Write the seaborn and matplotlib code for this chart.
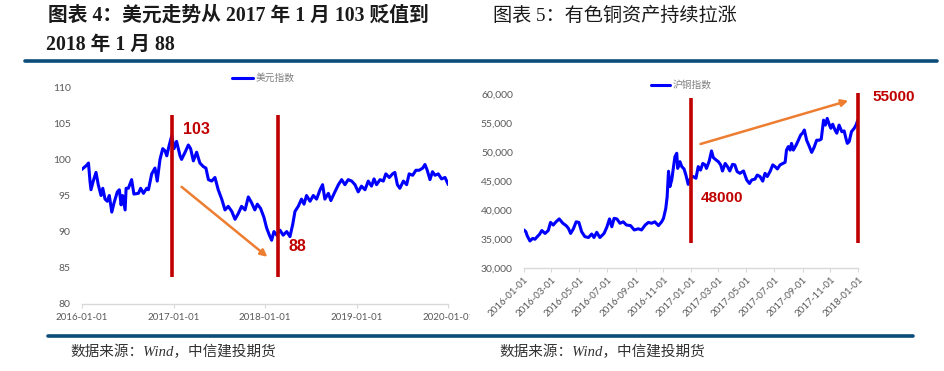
import numpy as np
import pandas as pd
import matplotlib
matplotlib.use("Agg")
import matplotlib.pyplot as plt
import matplotlib.dates as mdates
import matplotlib.ticker as mticker
from matplotlib.lines import Line2D
from matplotlib.transforms import Bbox, TransformedBbox
import seaborn as sns

# ---------------- data ----------------
usd_start = "2016-01-01"
usd_days = [0, 20, 27, 33, 37, 46, 57, 66, 77, 84, 93, 102, 110, 120, 129, 142, 150, 157, 163,
            173, 177, 186, 199, 208, 226, 235, 246, 259, 266, 279, 292, 301, 312, 323, 332, 339,
            349, 359, 368, 378, 392, 398, 412, 425, 434, 445, 458, 471, 485, 495, 505, 518, 531,
            544, 558, 571, 584, 598, 611, 624, 637, 651, 664, 677, 690, 700, 713, 726, 737, 748,
            757, 766, 777, 790, 803, 817, 830, 841, 850, 863, 876, 886, 896, 910, 923, 936, 950,
            960, 969, 983, 993, 1009, 1023, 1036, 1049, 1062, 1076, 1089, 1102, 1115, 1129, 1142,
            1155, 1165, 1175, 1189, 1202, 1212, 1226, 1239, 1248, 1258, 1268, 1282, 1295, 1305,
            1319, 1332, 1345, 1359, 1368, 1377, 1388, 1398, 1408, 1421, 1434, 1448, 1461]
usd_vals = [98.6, 99.2, 99.5, 97.0, 95.8, 97.0, 98.2, 96.5, 95.0, 96.0, 94.5, 94.2, 95.0, 92.7,
            94.0, 95.5, 95.8, 93.7, 95.0, 93.0, 96.0, 96.0, 97.2, 95.2, 95.3, 96.0, 95.3, 96.0,
            95.8, 98.0, 98.8, 97.0, 100.0, 101.5, 101.2, 100.5, 102.0, 103.3, 101.5, 102.5, 100.5,
            100.0, 101.0, 102.0, 101.5, 99.8, 101.0, 99.5, 99.0, 98.8, 97.2, 97.0, 97.5, 95.8,
            94.5, 93.0, 93.5, 92.8, 91.7, 92.5, 93.5, 93.0, 94.8, 94.0, 93.0, 93.8, 93.2, 92.0,
            90.5, 89.5, 88.8, 90.0, 89.5, 90.2, 89.5, 90.0, 89.3, 91.0, 92.8, 93.5, 94.5, 93.8,
            95.0, 94.2, 95.0, 94.5, 95.8, 96.5, 94.5, 95.3, 94.3, 95.5, 96.5, 97.2, 96.5, 97.2,
            97.0, 96.5, 95.5, 96.3, 95.8, 97.0, 96.3, 97.3, 96.5, 97.2, 97.0, 98.0, 97.5, 98.0,
            98.2, 96.5, 96.0, 97.0, 96.5, 98.0, 97.8, 98.5, 98.5, 98.8, 99.3, 98.5, 97.2, 98.3,
            97.8, 98.0, 97.3, 97.5, 96.5]
usd_ticks = ["2016-01-01", "2017-01-01", "2018-01-01", "2019-01-01", "2020-01-01"]
usd_marks = ["2016-12-27", "2018-02-20"]
usd_mark_span = [83.7, 106.2]
usd_notes = [("103", "2017-02-08", 104.1), ("88", "2018-04-06", 87.9)]
usd_arrow = [("2017-02-02", 96.2), ("2018-01-10", 86.5)]

cu_start = "2016-01-01"
cu_days = [0, 4, 7, 13, 19, 24, 29, 34, 39, 46, 53, 58, 64, 70, 77, 85, 92, 97, 102, 108, 114,
           120, 126, 133, 141, 148, 153, 159, 166, 175, 181, 187, 192, 197, 203, 210, 217, 224,
           233, 241, 250, 257, 265, 272, 279, 286, 294, 301, 305, 310, 313, 316, 319, 323, 327,
           330, 334, 336, 341, 345, 350, 354, 359, 364, 370, 376, 381, 386, 391, 396, 399, 405,
           410, 414, 420, 425, 430, 434, 440, 445, 450, 456, 461, 466, 472, 480, 487, 493, 498,
           505, 510, 516, 522, 527, 532, 538, 544, 549, 554, 560, 566, 571, 574, 578, 582, 585,
           589, 595, 600, 605, 609, 613, 618, 624, 629, 634, 640, 646, 650, 655, 659, 663, 668,
           671, 675, 680, 684, 689, 695, 700, 704, 707, 711, 716, 722, 726, 730]
cu_vals = [36600, 36300, 35600, 34700, 35150, 35000, 35450, 35850, 36500, 36000, 36500, 37900,
           37450, 38000, 38500, 37750, 37350, 36900, 36000, 36800, 38000, 37900, 36300, 35450,
           35300, 35900, 35300, 36200, 35300, 36000, 37050, 38500, 37150, 38600, 38500, 37750,
           38000, 37450, 37350, 36600, 36800, 36600, 37450, 37900, 37750, 38000, 37350, 38000,
           38600, 40300, 42300, 46700, 44050, 45200, 47500, 49200, 49800, 47200, 48350, 47500,
           47100, 46050, 44450, 45500, 45800, 45500, 47500, 46900, 48050, 47800, 47200, 48450,
           50200, 49050, 48650, 48350, 47800, 46750, 48050, 47500, 46750, 47900, 47800, 46650,
           46350, 46750, 45200, 44600, 45200, 45350, 46050, 45800, 45000, 46350, 45800, 46650,
           47800, 47500, 47100, 47800, 48050, 48250, 50350, 50950, 50350, 51500, 50350, 51200,
           52050, 52950, 53250, 53800, 52050, 50950, 49950, 50750, 52050, 52050, 52250, 55500,
           54650, 55800, 54650, 54100, 54800, 53800, 53250, 54650, 53500, 53650, 52350, 51500,
           51800, 53500, 54100, 54650, 55500]
cu_ticks = pd.date_range("2016-01-01", "2018-01-01", freq="2MS")
cu_marks = ["2016-12-31", "2018-01-01"]
cu_mark_spans = [[34300, 59260], [34300, 60120]]
cu_notes = [("48000", "2017-01-21", 42050), ("55000", "2018-02-02", 59430)]
cu_arrow = [("2017-01-21", 51394), ("2017-12-10", 58847)]

titles_left = ["图表 4：美元走势从 2017 年 1 月 103 贬值到", "2018 年 1 月 88"]
title_right = "图表 5：有色铜资产持续拉涨"
source_text = "数据来源：Wind，中信建投期货"

# ---------------- style ----------------
sns.set_theme(style="white")
plt.rcParams["font.family"] = ["Lato", "Noto Sans CJK SC", "DejaVu Sans"]
plt.rcParams["axes.unicode_minus"] = False

BLUE = "#0000ff"
RED = "#c00000"
ORANGE = "#ed7d31"
GREY = "#595959"
RULE = "#0b4c7a"
CJK = ["Noto Sans CJK SC", "DejaVu Sans"]
SERIF = ["Liberation Serif", "Noto Sans CJK SC"]

W, H = 945, 371
fig = plt.figure(figsize=(W / 100, H / 100), dpi=100)
fig.patch.set_facecolor("white")

def fx(px):
    return px / W

def fy(py):
    return 1 - py / H

usd_df = pd.DataFrame({
    "date": pd.Timestamp(usd_start) + pd.to_timedelta(usd_days, unit="D"),
    "value": usd_vals,
})
cu_df = pd.DataFrame({
    "date": pd.Timestamp(cu_start) + pd.to_timedelta(cu_days, unit="D"),
    "value": cu_vals,
})

# ---------------- left chart ----------------
ax1 = fig.add_axes([fx(81.7), fy(303.7), fx(448.3) - fx(81.7), fy(87.3) - fy(303.7)])
sns.lineplot(data=usd_df, x="date", y="value", ax=ax1, color=BLUE, lw=2.2, label="美元指数")
ax1.set_xlim(pd.Timestamp("2016-01-01"), pd.Timestamp("2020-01-01"))
ax1.set_ylim(80, 110)
ax1.set_yticks(np.arange(80, 111, 5))
ax1.set_xticks(pd.to_datetime(usd_ticks))
ax1.xaxis.set_major_formatter(mdates.DateFormatter("%Y-%m-%d"))
ax1.set_xlabel("")
ax1.set_ylabel("")

for d in usd_marks:
    ax1.plot([pd.Timestamp(d)] * 2, usd_mark_span, color=RED, lw=2.6, clip_on=False,
             solid_capstyle="butt", zorder=3)
for txt, d, v in usd_notes:
    ax1.text(pd.Timestamp(d), v, txt, color=RED, fontsize=11.5, fontweight="bold",
             family=["Liberation Sans"], ha="left", va="center")
ax1.annotate("", xy=(pd.Timestamp(usd_arrow[1][0]), usd_arrow[1][1]),
             xytext=(pd.Timestamp(usd_arrow[0][0]), usd_arrow[0][1]),
             arrowprops=dict(arrowstyle="-|>", color=ORANGE, lw=1.8, mutation_scale=10,
                             shrinkA=0, shrinkB=0))

ax1.legend(loc="center", bbox_to_anchor=(fx(263), fy(78)), bbox_transform=fig.transFigure,
           frameon=False, handlelength=2.2, handletextpad=0.2,
           prop={"family": CJK, "size": 7}, labelcolor="#7f7f7f")

# ---------------- right chart ----------------
ax2 = fig.add_axes([fx(524), fy(268.3), fx(858.3) - fx(524), fy(94) - fy(268.3)])
sns.lineplot(data=cu_df, x="date", y="value", ax=ax2, color=BLUE, lw=2.2, label="沪铜指数")
ax2.set_xlim(pd.Timestamp("2016-01-01"), pd.Timestamp("2018-01-01"))
ax2.set_ylim(30000, 60000)
ax2.set_yticks(np.arange(30000, 60001, 5000))
ax2.yaxis.set_major_formatter(mticker.StrMethodFormatter("{x:,.0f}"))
ax2.set_xticks(cu_ticks)
ax2.xaxis.set_major_formatter(mdates.DateFormatter("%Y-%m-%d"))
ax2.set_xlabel("")
ax2.set_ylabel("")
for lbl in ax2.get_xticklabels():
    lbl.set_rotation(45)
    lbl.set_ha("right")
    lbl.set_rotation_mode("anchor")

for d, span in zip(cu_marks, cu_mark_spans):
    ax2.plot([pd.Timestamp(d)] * 2, span, color=RED, lw=2.6, clip_on=False,
             solid_capstyle="butt", zorder=3)
for txt, d, v in cu_notes:
    ax2.text(pd.Timestamp(d), v, txt, color=RED, fontsize=11, fontweight="bold",
             family=["Liberation Sans"], ha="left", va="center", clip_on=False)
ax2.annotate("", xy=(pd.Timestamp(cu_arrow[1][0]), cu_arrow[1][1]),
             xytext=(pd.Timestamp(cu_arrow[0][0]), cu_arrow[0][1]),
             arrowprops=dict(arrowstyle="-|>", color=ORANGE, lw=1.8, mutation_scale=10,
                             shrinkA=0, shrinkB=0), annotation_clip=False)

ax2.legend(loc="center", bbox_to_anchor=(fx(681), fy(85)), bbox_transform=fig.transFigure,
           frameon=False, handlelength=2.0, handletextpad=0.2,
           prop={"family": CJK, "size": 7}, labelcolor="#7f7f7f")

# ---------------- common axis styling ----------------
for ax in (ax1, ax2):
    sns.despine(ax=ax, left=True)
    ax.spines["bottom"].set_color("#d9d9d9")
    ax.spines["bottom"].set_linewidth(1.0)
    ax.tick_params(axis="y", length=0, labelsize=7.5, labelcolor=GREY, pad=8)
    ax.tick_params(axis="x", length=3, width=0.8, color="#d9d9d9", labelsize=7,
                   labelcolor=GREY, pad=4, bottom=True)
    ax.set_facecolor("white")
    ax.grid(False)
ax2.tick_params(axis="x", pad=2)

# clip the last left label where the right panel begins
clipbox = TransformedBbox(Bbox.from_extents(0, 0, fx(470), 1), fig.transFigure)
for lbl in ax1.get_xticklabels():
    lbl.set_clip_box(clipbox)
    lbl.set_clip_on(True)

# ---------------- titles, rules, sources ----------------
fig.text(fx(48), fy(16), titles_left[0], fontsize=14.2, fontweight="bold", family=SERIF,
         va="center", ha="left", color="#1a1a1a")
fig.text(fx(46), fy(45), titles_left[1], fontsize=14.2, fontweight="bold", family=SERIF,
         va="center", ha="left", color="#1a1a1a")
fig.text(fx(493), fy(16), title_right, fontsize=13.8, family=SERIF,
         va="center", ha="left", color="#1a1a1a")

fig.add_artist(Line2D([fx(25), fx(937)], [fy(61), fy(61)], color=RULE, lw=2.6))
fig.add_artist(Line2D([fx(48), fx(913)], [fy(336), fy(336)], color=RULE, lw=2.6))

fig.text(fx(70), fy(352), source_text, fontsize=10.5, style="italic", family=SERIF,
         va="center", ha="left", color="#333333")
fig.text(fx(499), fy(352), source_text, fontsize=10.5, style="italic", family=SERIF,
         va="center", ha="left", color="#333333")

fig.savefig("out.png", dpi=100, facecolor="white")
